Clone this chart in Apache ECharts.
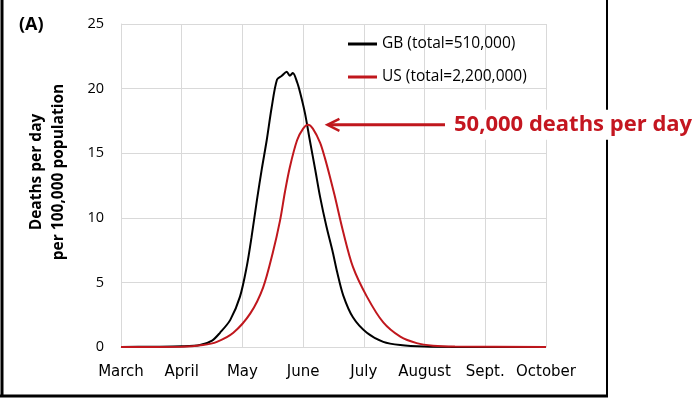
<!DOCTYPE html>
<html>
<head>
<meta charset="utf-8">
<script src="https://cdn.jsdelivr.net/npm/echarts@6/dist/echarts.min.js"></script>
<style>
  html, body { margin: 0; padding: 0; background: #fff; }
  #chart { width: 695px; height: 398px; }
</style>
</head>
<body>
<div id="chart"></div>
<script>
// month ticks (evenly spaced, one unit per month)
const monthLabels = ['March', 'April', 'May', 'June', 'July', 'August', 'Sept.', 'October'];

// GB curve, x in months from start of March
const gbX = [0, 0.5, 1.0, 1.3, 1.5, 1.63, 1.8, 1.96, 2.07, 2.15, 2.24, 2.32, 2.40, 2.48, 2.57, 2.65, 2.73, 2.78, 2.83, 2.90, 2.95, 3.03, 3.11, 3.2, 3.28, 3.38, 3.49, 3.56, 3.66, 3.82, 4.05, 4.32, 4.6, 5.0, 5.5, 7];
const gbY = [0, 0.02, 0.05, 0.15, 0.5, 1.1, 2.1, 3.9, 6.2, 8.5, 11.4, 13.8, 16.0, 18.5, 20.7, 21.0, 21.3, 21.0, 21.2, 20.5, 19.7, 18.1, 16.0, 13.7, 11.6, 9.4, 7.3, 5.8, 4.0, 2.3, 1.1, 0.4, 0.15, 0.03, 0, 0];

// US curve
const usX = [0, 1.0, 1.35, 1.58, 1.85, 2.13, 2.34, 2.50, 2.62, 2.70, 2.78, 2.90, 3.0, 3.08, 3.16, 3.28, 3.36, 3.44, 3.52, 3.66, 3.82, 4.05, 4.32, 4.6, 4.87, 5.14, 5.5, 7];
const usY = [0, 0.02, 0.15, 0.4, 1.1, 2.6, 4.6, 7.3, 9.8, 12.0, 13.9, 16.0, 16.9, 17.2, 16.9, 15.8, 14.6, 13.2, 11.7, 8.9, 6.2, 3.9, 1.9, 0.8, 0.3, 0.1, 0.03, 0];

const seriesNames = ['GB (total=510,000)', 'US (total=2,200,000)'];
const yAxisTitle = 'Deaths per day\nper 100,000 population';
const annotationText = '50,000 deaths per day';
const annotationValue = 17.2;

const RED = '#c0171d';

function zip(xs, ys) {
  return xs.map((x, i) => [x, ys[i]]);
}

let myChart = echarts.init(document.getElementById('chart'));

myChart.setOption({
  backgroundColor: '#fff',
  animation: false,
  grid: {
    left: 121,
    right: 149,
    top: 24,
    bottom: 51
  },
  legend: {
    orient: 'vertical',
    left: 348,
    top: 36,
    padding: 0,
    itemGap: 17,
    itemWidth: 29,
    itemHeight: 3,
    icon: 'rect',
    textStyle: {
      fontFamily: 'Open Sans',
      fontSize: 15.5,
      color: '#000'
    },
    data: seriesNames
  },
  xAxis: {
    type: 'value',
    min: 0,
    max: 7,
    interval: 1,
    axisLine: { show: true, lineStyle: { color: '#d9d9d9', width: 1 } },
    axisTick: { show: false },
    splitLine: { show: true, lineStyle: { color: '#d9d9d9', width: 1 } },
    axisLabel: {
      margin: 18,
      fontFamily: 'DejaVu Sans',
      fontSize: 15,
      color: '#000',
      formatter: function (v) { return monthLabels[v]; }
    }
  },
  yAxis: {
    type: 'value',
    min: 0,
    max: 25,
    interval: 5,
    axisLine: { show: true, lineStyle: { color: '#d9d9d9', width: 1 } },
    axisTick: { show: false },
    splitLine: { show: true, lineStyle: { color: '#d9d9d9', width: 1 } },
    axisLabel: {
      margin: 17,
      fontFamily: 'Open Sans',
      fontSize: 14.5,
      color: '#000'
    }
  },
  series: [{
    name: seriesNames[0],
    type: 'line',
    data: zip(gbX, gbY),
    smooth: 0.3,
    symbol: 'none',
    color: '#000',
    lineStyle: { color: '#000', width: 2 }
  }, {
    name: seriesNames[1],
    type: 'line',
    data: zip(usX, usY),
    smooth: 0.3,
    symbol: 'none',
    color: RED,
    lineStyle: { color: RED, width: 2 }
  }]
});

// arrow and label, tip placed just right of the US peak
let tip = myChart.convertToPixel({ gridIndex: 0 }, [3.4, annotationValue]);
let tailX = 445;
myChart.setOption({
  graphic: [
    // frame
    { type: 'line', shape: { x1: 2, y1: 0, x2: 2, y2: 397 }, style: { stroke: '#000', lineWidth: 3 } },
    { type: 'line', shape: { x1: 0, y1: 396, x2: 608, y2: 396 }, style: { stroke: '#000', lineWidth: 3 } },
    { type: 'line', shape: { x1: 607, y1: 0, x2: 607, y2: 397 }, style: { stroke: '#000', lineWidth: 2 } },
    // panel tag
    { type: 'text', left: 19, top: 16, style: { text: '(A)', fontFamily: 'Open Sans', fontWeight: 'bold', fontSize: 18, fill: '#000' } },
    // y axis title
    {
      type: 'text',
      x: 48,
      y: 172,
      rotation: Math.PI / 2,
      style: {
        text: yAxisTitle,
        fontFamily: 'Open Sans',
        fontWeight: 'bold',
        fontSize: 15.5,
        lineHeight: 22,
        fill: '#000',
        align: 'center',
        verticalAlign: 'middle'
      }
    },
    // arrow
    { type: 'line', shape: { x1: tip[0] + 2, y1: tip[1], x2: tailX, y2: tip[1] }, style: { stroke: RED, lineWidth: 3 } },
    { type: 'polyline', shape: { points: [[tip[0] + 12, tip[1] - 6], [tip[0], tip[1]], [tip[0] + 12, tip[1] + 6]] }, style: { stroke: RED, lineWidth: 2.5, fill: null } },
    // label
    {
      type: 'text',
      x: 452,
      y: tip[1],
      style: {
        text: annotationText,
        fontFamily: 'Open Sans',
        fontWeight: 'bold',
        fontSize: 22,
        fill: '#c41620',
        verticalAlign: 'middle',
        backgroundColor: '#fff',
        padding: [4, 2]
      }
    }
  ]
});

window.addEventListener('resize', function () { myChart.resize(); });
</script>
</body>
</html>
